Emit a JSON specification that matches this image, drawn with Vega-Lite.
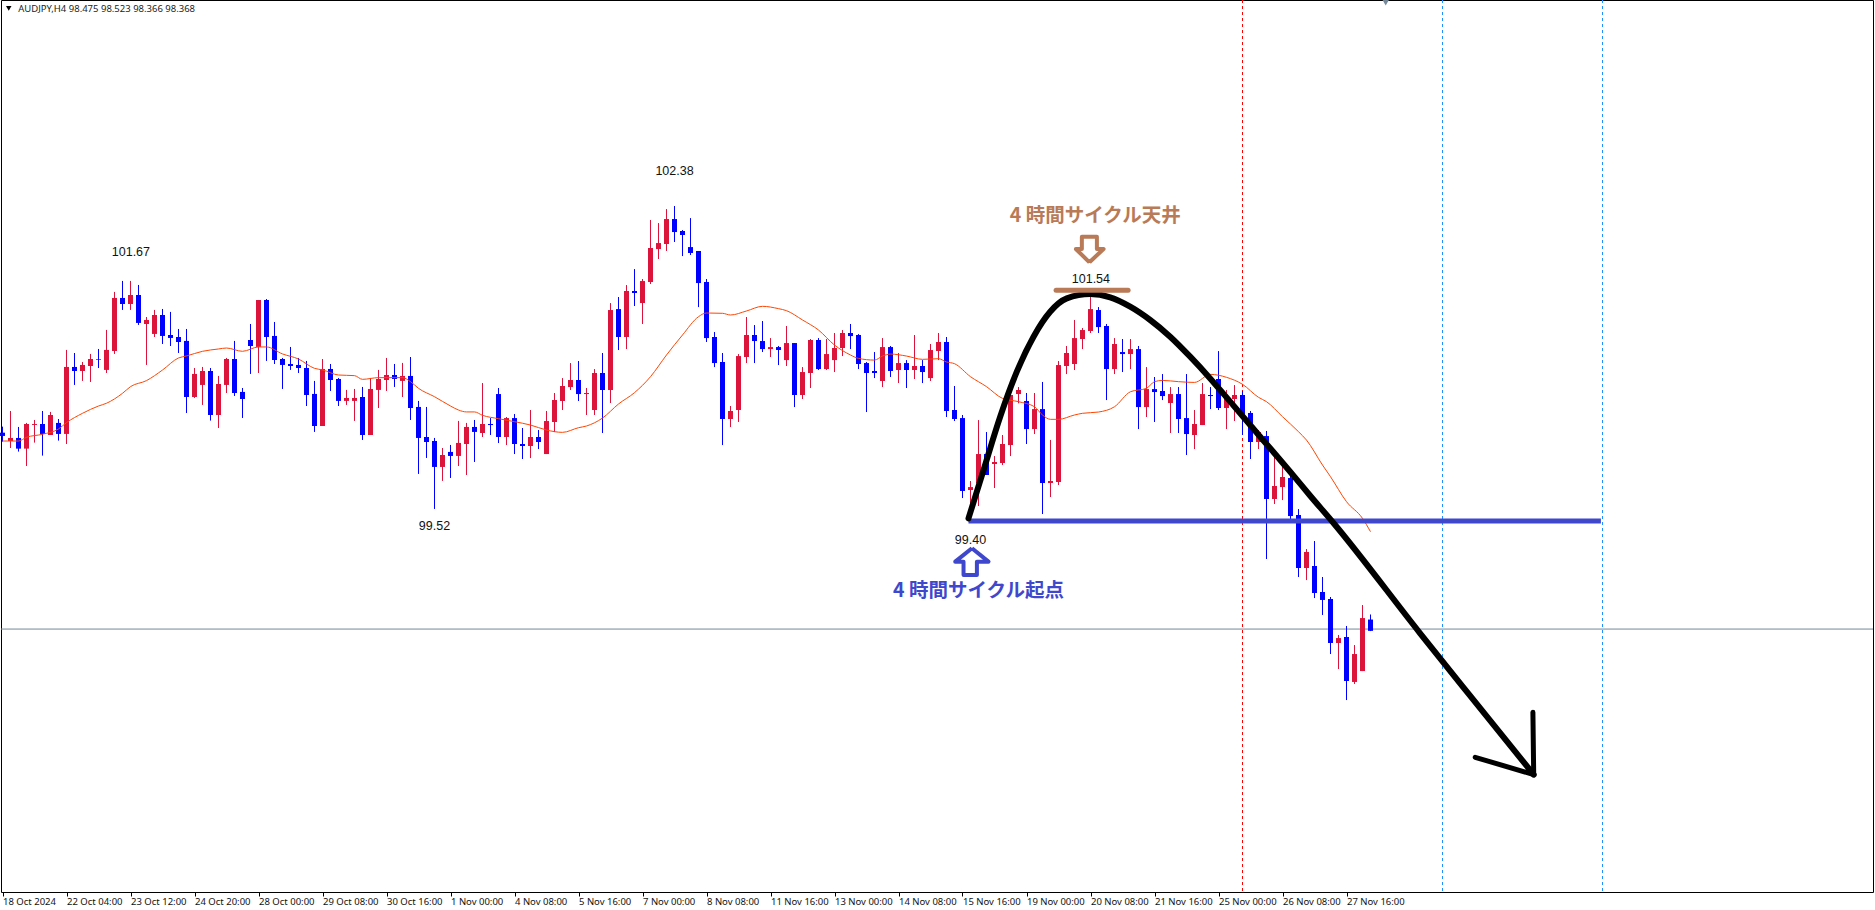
{"$schema":"https://vega.github.io/schema/vega-lite/v6.json","autosize":{"type":"none"},"width":1872,"height":892,"padding":{"left":1,"top":0,"right":2,"bottom":18},"background":"white","view":{"stroke":"black","strokeWidth":1,"fill":"white"},
"datasets":{
"candles":[
{"i":0,"o":100.241,"h":100.298,"l":100.156,"c":100.210},{"i":1,"o":100.162,"h":100.446,"l":100.096,"c":100.191},{"i":2,"o":100.191,"h":100.295,"l":100.062,"c":100.090},{"i":3,"o":100.090,"h":100.333,"l":99.926,"c":100.323},{"i":4,"o":100.314,"h":100.361,"l":100.147,"c":100.323},{"i":5,"o":100.323,"h":100.446,"l":100.024,"c":100.229},{"i":6,"o":100.219,"h":100.437,"l":100.219,"c":100.408},{"i":7,"o":100.333,"h":100.370,"l":100.166,"c":100.229},{"i":8,"o":100.229,"h":101.023,"l":100.134,"c":100.862},{"i":9,"o":100.862,"h":100.994,"l":100.692,"c":100.824},
{"i":10,"o":100.824,"h":100.909,"l":100.730,"c":100.881},{"i":11,"o":100.871,"h":100.985,"l":100.720,"c":100.937},{"i":12,"o":100.937,"h":101.032,"l":100.852,"c":100.931},{"i":13,"o":100.834,"h":101.212,"l":100.805,"c":101.023},{"i":14,"o":101.013,"h":101.571,"l":100.985,"c":101.514},{"i":15,"o":101.514,"h":101.675,"l":101.401,"c":101.457},{"i":16,"o":101.457,"h":101.675,"l":101.401,"c":101.542},{"i":17,"o":101.542,"h":101.637,"l":101.259,"c":101.278},{"i":18,"o":101.268,"h":101.334,"l":100.881,"c":101.306},{"i":19,"o":101.174,"h":101.401,"l":101.145,"c":101.353},
{"i":20,"o":101.353,"h":101.410,"l":101.079,"c":101.155},{"i":21,"o":101.164,"h":101.382,"l":101.060,"c":101.136},{"i":22,"o":101.145,"h":101.221,"l":100.994,"c":101.098},{"i":23,"o":101.108,"h":101.221,"l":100.427,"c":100.578},{"i":24,"o":100.578,"h":100.852,"l":100.569,"c":100.796},{"i":25,"o":100.692,"h":100.862,"l":100.503,"c":100.824},{"i":26,"o":100.824,"h":100.852,"l":100.355,"c":100.408},{"i":27,"o":100.408,"h":100.777,"l":100.285,"c":100.701},{"i":28,"o":100.692,"h":100.947,"l":100.616,"c":100.937},{"i":29,"o":100.937,"h":101.108,"l":100.588,"c":100.616},
{"i":30,"o":100.626,"h":100.663,"l":100.380,"c":100.559},{"i":31,"o":101.117,"h":101.268,"l":100.796,"c":101.060},{"i":32,"o":101.051,"h":101.495,"l":100.805,"c":101.495},{"i":33,"o":101.495,"h":101.504,"l":100.919,"c":101.145},{"i":34,"o":101.155,"h":101.287,"l":100.890,"c":100.928},{"i":35,"o":100.937,"h":100.947,"l":100.654,"c":100.881},{"i":36,"o":100.890,"h":101.051,"l":100.834,"c":100.871},{"i":37,"o":100.881,"h":100.947,"l":100.805,"c":100.852},{"i":38,"o":100.852,"h":100.919,"l":100.493,"c":100.597},{"i":39,"o":100.607,"h":100.730,"l":100.248,"c":100.304},
{"i":40,"o":100.304,"h":100.937,"l":100.304,"c":100.843},{"i":41,"o":100.843,"h":100.890,"l":100.635,"c":100.739},{"i":42,"o":100.748,"h":100.758,"l":100.493,"c":100.541},{"i":43,"o":100.541,"h":100.645,"l":100.503,"c":100.569},{"i":44,"o":100.541,"h":100.654,"l":100.352,"c":100.569},{"i":45,"o":100.578,"h":100.673,"l":100.172,"c":100.219},{"i":46,"o":100.219,"h":100.758,"l":100.219,"c":100.654},{"i":47,"o":100.645,"h":100.834,"l":100.474,"c":100.748},{"i":48,"o":100.739,"h":100.947,"l":100.635,"c":100.786},{"i":49,"o":100.786,"h":100.890,"l":100.673,"c":100.748},
{"i":50,"o":100.730,"h":100.900,"l":100.578,"c":100.777},{"i":51,"o":100.777,"h":100.956,"l":100.361,"c":100.474},{"i":52,"o":100.484,"h":100.541,"l":99.851,"c":100.191},{"i":53,"o":100.200,"h":100.484,"l":100.002,"c":100.153},{"i":54,"o":100.162,"h":100.191,"l":99.520,"c":99.917},{"i":55,"o":99.917,"h":100.096,"l":99.785,"c":100.030},{"i":56,"o":100.059,"h":100.125,"l":99.813,"c":100.021},{"i":57,"o":100.021,"h":100.352,"l":99.926,"c":100.144},{"i":58,"o":100.134,"h":100.333,"l":99.841,"c":100.295},{"i":59,"o":100.295,"h":100.361,"l":99.964,"c":100.248},
{"i":60,"o":100.238,"h":100.710,"l":100.200,"c":100.323},{"i":61,"o":100.323,"h":100.379,"l":100.219,"c":100.313},{"i":62,"o":100.606,"h":100.663,"l":100.143,"c":100.200},{"i":63,"o":100.200,"h":100.389,"l":100.124,"c":100.379},{"i":64,"o":100.379,"h":100.417,"l":100.039,"c":100.134},{"i":65,"o":100.134,"h":100.285,"l":99.992,"c":100.115},{"i":66,"o":100.115,"h":100.455,"l":100.001,"c":100.200},{"i":67,"o":100.200,"h":100.266,"l":100.086,"c":100.153},{"i":68,"o":100.039,"h":100.446,"l":100.039,"c":100.351},{"i":69,"o":100.342,"h":100.616,"l":100.247,"c":100.550},
{"i":70,"o":100.540,"h":100.757,"l":100.455,"c":100.682},{"i":71,"o":100.672,"h":100.899,"l":100.644,"c":100.739},{"i":72,"o":100.739,"h":100.918,"l":100.540,"c":100.606},{"i":73,"o":100.606,"h":100.663,"l":100.408,"c":100.616},{"i":74,"o":100.455,"h":100.842,"l":100.408,"c":100.805},{"i":75,"o":100.805,"h":100.994,"l":100.238,"c":100.644},{"i":76,"o":100.644,"h":101.466,"l":100.521,"c":101.400},{"i":77,"o":101.409,"h":101.523,"l":101.022,"c":101.145},{"i":78,"o":101.145,"h":101.636,"l":101.031,"c":101.580},{"i":79,"o":101.580,"h":101.787,"l":101.438,"c":101.561},
{"i":80,"o":101.466,"h":101.693,"l":101.268,"c":101.674},{"i":81,"o":101.665,"h":102.251,"l":101.646,"c":101.986},{"i":82,"o":101.976,"h":102.222,"l":101.882,"c":102.033},{"i":83,"o":102.024,"h":102.354,"l":101.958,"c":102.260},{"i":84,"o":102.260,"h":102.383,"l":102.043,"c":102.137},{"i":85,"o":102.147,"h":102.156,"l":101.910,"c":102.109},{"i":86,"o":101.995,"h":102.269,"l":101.920,"c":101.939},{"i":87,"o":101.958,"h":101.958,"l":101.428,"c":101.655},{"i":88,"o":101.665,"h":101.693,"l":101.098,"c":101.135},{"i":89,"o":101.145,"h":101.192,"l":100.861,"c":100.899},
{"i":90,"o":100.909,"h":100.994,"l":100.124,"c":100.370},{"i":91,"o":100.370,"h":100.493,"l":100.294,"c":100.446},{"i":92,"o":100.455,"h":100.984,"l":100.342,"c":100.965},{"i":93,"o":100.956,"h":101.334,"l":100.899,"c":101.164},{"i":94,"o":101.164,"h":101.258,"l":100.899,"c":101.107},{"i":95,"o":101.107,"h":101.296,"l":101.003,"c":101.031},{"i":96,"o":101.031,"h":101.135,"l":100.956,"c":101.050},{"i":97,"o":101.050,"h":101.060,"l":100.880,"c":101.022},{"i":98,"o":100.927,"h":101.249,"l":100.871,"c":101.088},{"i":99,"o":101.088,"h":101.088,"l":100.483,"c":100.597},
{"i":100,"o":100.597,"h":100.861,"l":100.559,"c":100.814},{"i":101,"o":100.805,"h":101.126,"l":100.663,"c":101.117},{"i":102,"o":101.117,"h":101.135,"l":100.833,"c":100.842},{"i":103,"o":100.842,"h":101.126,"l":100.833,"c":100.984},{"i":104,"o":100.927,"h":101.183,"l":100.814,"c":101.041},{"i":105,"o":101.041,"h":101.211,"l":100.965,"c":101.183},{"i":106,"o":101.183,"h":101.268,"l":101.031,"c":101.154},{"i":107,"o":101.164,"h":101.173,"l":100.842,"c":100.890},{"i":108,"o":100.899,"h":100.909,"l":100.436,"c":100.805},{"i":109,"o":100.824,"h":101.003,"l":100.757,"c":100.805},
{"i":110,"o":100.729,"h":101.135,"l":100.672,"c":101.050},{"i":111,"o":101.050,"h":101.060,"l":100.767,"c":100.824},{"i":112,"o":100.833,"h":100.994,"l":100.710,"c":100.899},{"i":113,"o":100.899,"h":100.927,"l":100.663,"c":100.833},{"i":114,"o":100.833,"h":101.164,"l":100.748,"c":100.871},{"i":115,"o":100.871,"h":100.927,"l":100.710,"c":100.814},{"i":116,"o":100.757,"h":101.079,"l":100.729,"c":101.022},{"i":117,"o":101.013,"h":101.183,"l":100.927,"c":101.098},{"i":118,"o":101.098,"h":101.145,"l":100.389,"c":100.446},{"i":119,"o":100.455,"h":100.682,"l":100.351,"c":100.370},
{"i":120,"o":100.379,"h":100.408,"l":99.623,"c":99.690},{"i":121,"o":99.699,"h":99.784,"l":99.510,"c":99.727},{"i":122,"o":99.762,"h":100.360,"l":99.548,"c":100.039},{"i":123,"o":100.039,"h":100.247,"l":99.841,"c":99.841},{"i":124,"o":99.945,"h":100.020,"l":99.718,"c":99.964},{"i":125,"o":99.954,"h":100.219,"l":99.935,"c":100.134},{"i":126,"o":100.124,"h":100.597,"l":100.020,"c":100.597},{"i":127,"o":100.606,"h":100.672,"l":100.518,"c":100.644},{"i":128,"o":100.540,"h":100.616,"l":100.134,"c":100.275},{"i":129,"o":100.275,"h":100.616,"l":100.228,"c":100.464},
{"i":130,"o":100.464,"h":100.720,"l":99.472,"c":99.765},{"i":131,"o":99.765,"h":100.172,"l":99.633,"c":99.784},{"i":132,"o":99.775,"h":100.918,"l":99.746,"c":100.880},{"i":133,"o":100.871,"h":101.060,"l":100.795,"c":100.994},{"i":134,"o":100.890,"h":101.306,"l":100.833,"c":101.135},{"i":135,"o":101.126,"h":101.230,"l":101.031,"c":101.211},{"i":136,"o":101.202,"h":101.542,"l":101.183,"c":101.409},{"i":137,"o":101.400,"h":101.428,"l":101.183,"c":101.239},{"i":138,"o":101.249,"h":101.268,"l":100.549,"c":100.842},{"i":139,"o":100.842,"h":101.135,"l":100.795,"c":101.079},
{"i":140,"o":101.003,"h":101.126,"l":100.814,"c":100.984},{"i":141,"o":100.984,"h":101.126,"l":100.842,"c":101.031},{"i":142,"o":101.031,"h":101.060,"l":100.275,"c":100.483},{"i":143,"o":100.483,"h":100.861,"l":100.389,"c":100.653},{"i":144,"o":100.653,"h":100.767,"l":100.342,"c":100.625},{"i":145,"o":100.635,"h":100.795,"l":100.549,"c":100.587},{"i":146,"o":100.521,"h":100.672,"l":100.238,"c":100.606},{"i":147,"o":100.606,"h":100.672,"l":100.238,"c":100.370},{"i":148,"o":100.379,"h":100.795,"l":100.030,"c":100.228},{"i":149,"o":100.219,"h":100.455,"l":100.086,"c":100.323},
{"i":150,"o":100.313,"h":100.710,"l":100.313,"c":100.606},{"i":151,"o":100.597,"h":100.672,"l":100.464,"c":100.587},{"i":152,"o":100.748,"h":101.012,"l":100.455,"c":100.474},{"i":153,"o":100.474,"h":100.644,"l":100.275,"c":100.568},{"i":154,"o":100.559,"h":100.691,"l":100.351,"c":100.597},{"i":155,"o":100.597,"h":100.635,"l":100.219,"c":100.392},{"i":156,"o":100.427,"h":100.446,"l":99.992,"c":100.153},{"i":157,"o":100.153,"h":100.266,"l":100.086,"c":100.247},{"i":158,"o":100.209,"h":100.257,"l":99.047,"c":99.614},{"i":159,"o":99.614,"h":100.011,"l":99.567,"c":99.737},
{"i":160,"o":99.727,"h":99.964,"l":99.604,"c":99.822},{"i":161,"o":99.812,"h":99.888,"l":99.416,"c":99.453},{"i":162,"o":99.463,"h":99.519,"l":98.877,"c":98.962},{"i":163,"o":98.962,"h":99.141,"l":98.848,"c":99.113},{"i":164,"o":98.981,"h":99.217,"l":98.678,"c":98.726},{"i":165,"o":98.735,"h":98.877,"l":98.518,"c":98.660},{"i":166,"o":98.669,"h":98.688,"l":98.149,"c":98.253},{"i":167,"o":98.253,"h":98.329,"l":98.007,"c":98.300},{"i":168,"o":98.310,"h":98.414,"l":97.714,"c":97.894},{"i":169,"o":97.885,"h":98.234,"l":97.866,"c":98.149},
{"i":170,"o":97.988,"h":98.612,"l":97.988,"c":98.489},{"i":171,"o":98.475,"h":98.523,"l":98.366,"c":98.368}],
"ma":[{"i":0,"p":100.162},{"i":2,"p":100.162},{"i":3,"p":100.197},{"i":5,"p":100.226},{"i":7,"p":100.276},{"i":8,"p":100.336},{"i":10,"p":100.424},{"i":12,"p":100.493},{"i":13,"p":100.519},{"i":15,"p":100.613},{"i":16,"p":100.676},{"i":18,"p":100.733},{"i":20,"p":100.833},{"i":22,"p":100.947},{"i":23,"p":100.966},{"i":25,"p":101.010},{"i":27,"p":101.032},{"i":28,"p":101.041},{"i":30,"p":101.010},{"i":32,"p":101.051},{"i":33,"p":101.051},{"i":35,"p":100.985},{"i":37,"p":100.937},{"i":39,"p":100.849},{"i":40,"p":100.834},{"i":42,"p":100.786},{"i":44,"p":100.780},{"i":45,"p":100.745},{"i":47,"p":100.761},{"i":50,"p":100.761},{"i":51,"p":100.723},{"i":52,"p":100.660},{"i":54,"p":100.581},{"i":56,"p":100.493},{"i":57,"p":100.455},{"i":58,"p":100.437},{"i":59,"p":100.437},{"i":60,"p":100.405},{"i":62,"p":100.373},{"i":64,"p":100.345},{"i":66,"p":100.313},{"i":68,"p":100.266},{"i":70,"p":100.244},{"i":72,"p":100.288},{"i":73,"p":100.304},{"i":75,"p":100.379},{"i":77,"p":100.512},{"i":79,"p":100.619},{"i":81,"p":100.770},{"i":83,"p":100.975},{"i":85,"p":101.164},{"i":87,"p":101.337},{"i":88,"p":101.372},{"i":90,"p":101.369},{"i":91,"p":101.353},{"i":93,"p":101.391},{"i":95,"p":101.435},{"i":97,"p":101.413},{"i":98,"p":101.394},{"i":100,"p":101.306},{"i":102,"p":101.211},{"i":104,"p":101.069},{"i":106,"p":100.975},{"i":107,"p":100.943},{"i":109,"p":100.927},{"i":110,"p":100.965},{"i":111,"p":100.984},{"i":113,"p":100.965},{"i":115,"p":100.934},{"i":117,"p":100.940},{"i":118,"p":100.909},{"i":119,"p":100.893},{"i":121,"p":100.770},{"i":123,"p":100.676},{"i":125,"p":100.565},{"i":127,"p":100.534},{"i":129,"p":100.486},{"i":130,"p":100.408},{"i":131,"p":100.367},{"i":132,"p":100.367},{"i":134,"p":100.408},{"i":135,"p":100.424},{"i":137,"p":100.436},{"i":139,"p":100.486},{"i":141,"p":100.628},{"i":143,"p":100.660},{"i":144,"p":100.723},{"i":145,"p":100.735},{"i":147,"p":100.723},{"i":149,"p":100.716},{"i":151,"p":100.792},{"i":153,"p":100.764},{"i":155,"p":100.698},{"i":157,"p":100.575},{"i":158,"p":100.534},{"i":160,"p":100.392},{"i":162,"p":100.250},{"i":163,"p":100.171},{"i":165,"p":99.935},{"i":166,"p":99.825},{"i":168,"p":99.589},{"i":170,"p":99.431},{"i":171,"p":99.305}],
"curve":[{"i":120.75,"p":99.431},{"i":122.63,"p":99.888},{"i":124.71,"p":100.392},{"i":126.79,"p":100.817},{"i":128.88,"p":101.148},{"i":130.96,"p":101.384},{"i":133.04,"p":101.510},{"i":135.96,"p":101.551},{"i":138.46,"p":101.520},{"i":140.96,"p":101.432},{"i":143.46,"p":101.306},{"i":145.96,"p":101.148},{"i":148.46,"p":100.959},{"i":150.96,"p":100.754},{"i":153.46,"p":100.534},{"i":155.96,"p":100.313},{"i":158.46,"p":100.093},{"i":160.96,"p":99.872},{"i":163.46,"p":99.645},{"i":166.4,"p":99.385},{"i":177.2,"p":98.345},{"i":183.24,"p":97.775},{"i":191.4,"p":97.01}],
"head":[{"n":0,"i":191.3,"p":97.598},{"n":1,"i":191.4,"p":97.01},{"n":2,"i":184.09,"p":97.173}],
"support":[{"i":120.75,"p":99.406},{"i":199.8,"p":99.406}],
"top":[{"i":131.7,"p":101.587},{"i":140.7,"p":101.587}],
"upArrow":[{"n":0,"i":121.18,"p":99.149},{"n":1,"i":123.25,"p":99.022},{"n":2,"i":121.8,"p":99.022},{"n":3,"i":121.8,"p":98.896},{"n":4,"i":120.13,"p":98.896},{"n":5,"i":120.13,"p":99.022},{"n":6,"i":119.09,"p":99.022},{"n":7,"i":121.18,"p":99.149}],
"downArrow":[{"n":0,"i":135.87,"p":101.851},{"n":1,"i":137.63,"p":101.977},{"n":2,"i":136.8,"p":101.977},{"n":3,"i":136.8,"p":102.093},{"n":4,"i":134.92,"p":102.093},{"n":5,"i":134.92,"p":101.977},{"n":6,"i":134.17,"p":101.977},{"n":7,"i":135.87,"p":101.851}],
"levels":[{"i":16.05,"p":101.949,"t":"101.67"},{"i":84,"p":102.714,"t":"102.38"},{"i":54,"p":99.359,"t":"99.52"},{"i":136.05,"p":101.693,"t":"101.54"},{"i":121,"p":99.222,"t":"99.40"}]
},
"layer":[
{"data":{"values":[{"i":155,"k":"r"}]},"mark":{"type":"rule","color":"#FF0000","strokeWidth":1,"strokeDash":[3,3]},"encoding":{"x":{"field":"i","type":"quantitative","scale":{"domain":[-0.1875,233.8125],"nice":false,"zero":false,"padding":0},"axis":{"values":[0,8,16,24,32,40,48,56,64,72,80,88,96,104,112,120,128,136,144,152,160,168],"title":null,"grid":false,"domain":false,"ticks":true,"tickSize":4,"tickColor":"black","tickWidth":1,"labelAlign":"left","labelBaseline":"middle","labelPadding":5,"labelFont":"Noto Sans","labelFontSize":9.5,"labelColor":"#111111","labelOverlap":false,"labelBound":false,"labelFlush":false,"labelExpr":"['18 Oct 2024','22 Oct 04:00','23 Oct 12:00','24 Oct 20:00','28 Oct 00:00','29 Oct 08:00','30 Oct 16:00','1 Nov 00:00','4 Nov 08:00','5 Nov 16:00','7 Nov 00:00','8 Nov 08:00','11 Nov 16:00','13 Nov 00:00','14 Nov 08:00','15 Nov 16:00','19 Nov 00:00','20 Nov 08:00','21 Nov 16:00','25 Nov 00:00','26 Nov 08:00','27 Nov 16:00'][datum.value/8]"}}}},
{"data":{"values":[{"i":180},{"i":200}]},"mark":{"type":"rule","color":"#1E90FF","strokeWidth":1,"strokeDash":[3,3]},"encoding":{"x":{"field":"i","type":"quantitative"}}},
{"data":{"values":[{"p":98.385}]},"mark":{"type":"rule","color":"#778899","strokeWidth":1},"encoding":{"y":{"field":"p","type":"quantitative","scale":{"domain":[95.9,104.33],"nice":false,"zero":false},"axis":null}}},
{"data":{"name":"candles"},"mark":{"type":"rule","strokeWidth":1},"encoding":{"x":{"field":"i","type":"quantitative"},"y":{"field":"h","type":"quantitative"},"y2":{"field":"l"},"color":{"condition":{"test":"datum.c>datum.o","value":"#DC143C"},"value":"#0000FF"}}},
{"data":{"name":"candles"},"mark":{"type":"bar","size":5,"orient":"vertical"},"encoding":{"x":{"field":"i","type":"quantitative"},"y":{"field":"o","type":"quantitative"},"y2":{"field":"c"},"color":{"condition":{"test":"datum.c>datum.o","value":"#DC143C"},"value":"#0000FF"}}},
{"data":{"name":"ma"},"mark":{"type":"line","color":"#FF4500","strokeWidth":1,"interpolate":"monotone"},"encoding":{"x":{"field":"i","type":"quantitative"},"y":{"field":"p","type":"quantitative"}}},
{"data":{"name":"support"},"mark":{"type":"line","color":"#3F48CC","strokeWidth":5},"encoding":{"x":{"field":"i","type":"quantitative"},"y":{"field":"p","type":"quantitative"}}},
{"data":{"name":"curve"},"mark":{"type":"line","color":"#000000","strokeWidth":6,"interpolate":"monotone","strokeCap":"round"},"encoding":{"x":{"field":"i","type":"quantitative"},"y":{"field":"p","type":"quantitative"}}},
{"data":{"name":"head"},"mark":{"type":"line","color":"#000000","strokeWidth":5,"strokeCap":"round","strokeJoin":"round"},"encoding":{"x":{"field":"i","type":"quantitative"},"y":{"field":"p","type":"quantitative"},"order":{"field":"n"}}},
{"data":{"name":"top"},"mark":{"type":"line","color":"#B97A57","strokeWidth":5,"strokeCap":"round"},"encoding":{"x":{"field":"i","type":"quantitative"},"y":{"field":"p","type":"quantitative"}}},
{"data":{"name":"upArrow"},"mark":{"type":"line","color":"#3F48CC","strokeWidth":4,"strokeJoin":"round"},"encoding":{"x":{"field":"i","type":"quantitative"},"y":{"field":"p","type":"quantitative"},"order":{"field":"n"}}},
{"data":{"name":"downArrow"},"mark":{"type":"line","color":"#B97A57","strokeWidth":4,"strokeJoin":"round"},"encoding":{"x":{"field":"i","type":"quantitative"},"y":{"field":"p","type":"quantitative"},"order":{"field":"n"}}},
{"data":{"name":"levels"},"mark":{"type":"text","font":"Liberation Sans","fontSize":12.5,"color":"#111111","align":"center","baseline":"middle"},"encoding":{"x":{"field":"i","type":"quantitative"},"y":{"field":"p","type":"quantitative"},"text":{"field":"t"}}},
{"data":{"values":[{"i":136.6,"p":102.289,"t":"4 時間サイクル天井"}]},"mark":{"type":"text","font":"Noto Sans CJK JP","fontWeight":"bold","fontSize":19.5,"color":"#B97A57","align":"center","baseline":"middle"},"encoding":{"x":{"field":"i","type":"quantitative"},"y":{"field":"p","type":"quantitative"},"text":{"field":"t"}}},
{"data":{"values":[{"i":122,"p":98.745,"t":"4 時間サイクル起点"}]},"mark":{"type":"text","font":"Noto Sans CJK JP","fontWeight":"bold","fontSize":19.5,"color":"#3F48CC","align":"center","baseline":"middle"},"encoding":{"x":{"field":"i","type":"quantitative"},"y":{"field":"p","type":"quantitative"},"text":{"field":"t"}}},
{"data":{"values":[{"i":1.96,"p":104.245,"t":"AUDJPY,H4  98.475 98.523 98.366 98.368"}]},"mark":{"type":"text","font":"Noto Sans","fontSize":9.5,"color":"#222222","align":"left","baseline":"middle"},"encoding":{"x":{"field":"i","type":"quantitative"},"y":{"field":"p","type":"quantitative"},"text":{"field":"t"}}},
{"data":{"values":[{"i":0.78,"p":104.25}]},"mark":{"type":"point","shape":"triangle-down","filled":true,"size":30,"color":"#000000","opacity":1},"encoding":{"x":{"field":"i","type":"quantitative"},"y":{"field":"p","type":"quantitative"}}},
{"data":{"values":[{"i":172.9,"p":104.316}]},"mark":{"type":"point","shape":"triangle-down","filled":true,"size":85,"color":"#778899","opacity":1,"clip":true},"encoding":{"x":{"field":"i","type":"quantitative"},"y":{"field":"p","type":"quantitative"}}}
]}
